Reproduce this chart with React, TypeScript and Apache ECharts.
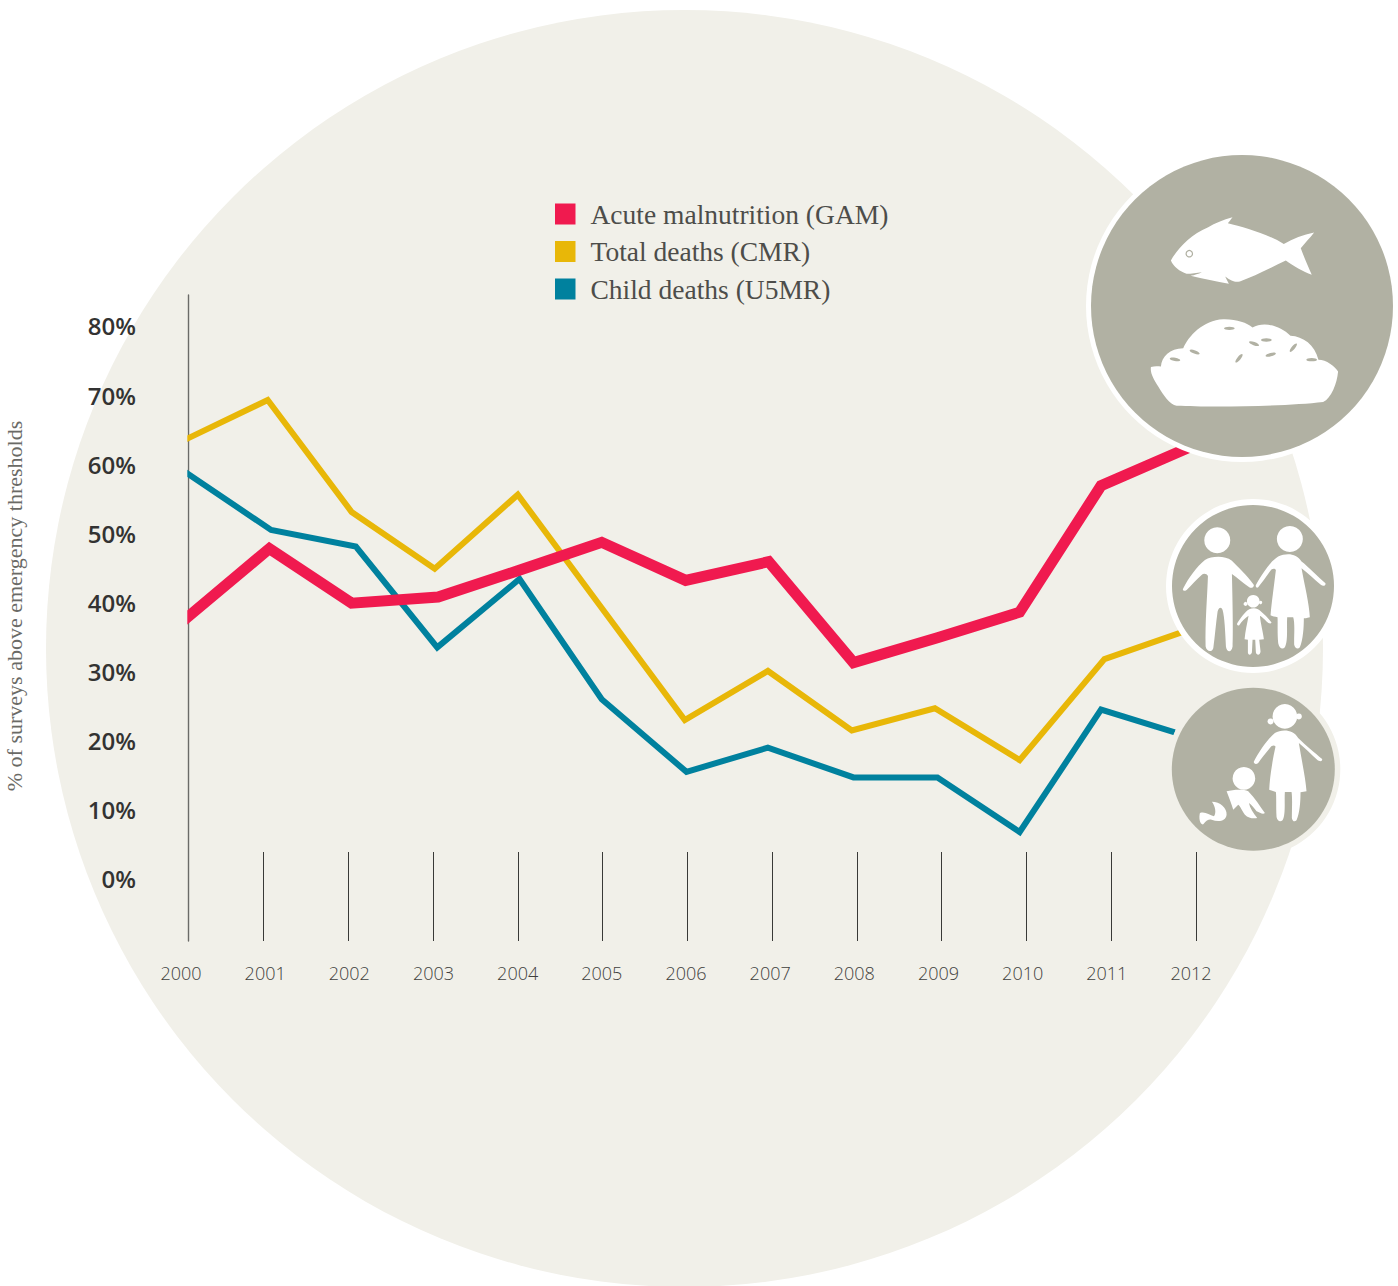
import React, { useEffect, useRef } from "react";
import * as echarts from "echarts";

// Survey shares above emergency thresholds, 2000-2012.
const yearLabels = ["2000", "2001", "2002", "2003", "2004", "2005", "2006", "2007", "2008", "2009", "2010", "2011", "2012"];
const tickYears = [2001, 2002, 2003, 2004, 2005, 2006, 2007, 2008, 2009, 2010, 2011, 2012];
const percentTicks = [0, 10, 20, 30, 40, 50, 60, 70, 80];

const gamYears = [2000, 2001.07, 2002.04, 2003.06, 2004, 2004.99, 2005.98, 2006.96, 2007.96, 2008.95, 2009.92, 2010.88, 2011.93];
const gamValues = [36.8, 47.8, 39.9, 40.8, 44.6, 48.7, 43.2, 45.9, 31.3, 34.9, 38.6, 56.9, 62.5];
const cmrYears = [2000, 2001.05, 2002.04, 2003.02, 2004, 2004.99, 2005.97, 2006.95, 2007.94, 2008.92, 2009.92, 2010.92, 2011.93];
const cmrValues = [63.1, 69.3, 53.1, 44.9, 55.6, 39.2, 23.0, 30.1, 21.5, 24.7, 17.2, 31.8, 36.1];
const u5mrYears = [2000, 2001.09, 2002.09, 2003.05, 2004.02, 2004.99, 2005.99, 2006.95, 2007.96, 2008.95, 2009.92, 2010.88, 2011.75];
const u5mrValues = [59.5, 50.5, 48.1, 33.5, 43.4, 26.0, 15.5, 19.0, 14.7, 14.7, 6.8, 24.5, 21.2];

const RED = "#f01a4f";
const YELLOW = "#e8b708";
const TEAL = "#00819e";
const PAPER = "#f1f0e9";
const BADGE = "#b1b1a3";
const INK = "#333332";

const SANS = '"Open Sans", sans-serif';
const SERIF = '"Liberation Serif", serif';

// Icon outlines, in a local space three times the drawn size.
echarts.graphic.registerShape("fishIcon", echarts.graphic.extendPath(
  "M273 362C290 330 330 285 385 262C405 250 430 240 458 232C452 240 448 246 444 250C490 262 560 280 612 312C640 296 670 285 703 278C690 295 675 310 663 325C672 350 685 380 696 405C670 395 640 378 618 362C570 385 520 410 480 425C465 428 455 424 436 410C440 418 443 425 447 432C410 425 370 418 332 408C345 405 355 402 366 397C350 398 335 402 320 402C300 395 280 380 273 362Z", {}));
echarts.graphic.registerShape("riceIcon", echarts.graphic.extendPath(
  "M213 682C225 678 235 680 243 680C245 650 270 625 310 625C325 590 370 540 430 538C470 537 500 548 518 563C550 545 600 555 632 588C670 590 705 615 716 660C740 660 765 680 775 695C772 730 755 775 730 787C620 800 400 803 290 798C270 795 250 765 235 740C222 720 210 700 213 682Z", {}));
echarts.graphic.registerShape("fatherIcon", echarts.graphic.extendPath(
  "M100 295C115 265 140 230 165 210C185 198 225 196 245 212C265 232 290 255 312 285C312 292 305 296 298 292C280 280 262 262 246 252C248 330 250 430 248 470C245 490 230 488 228 470C226 430 224 380 218 360C214 350 206 352 203 365C198 400 195 440 190 475C186 488 170 486 167 470C165 400 172 320 174 258C170 250 160 250 155 255C140 268 125 285 110 300C102 305 96 302 100 295Z", {}));
echarts.graphic.registerShape("motherIcon", echarts.graphic.extendPath(
  "M318 285C335 255 360 215 385 200C410 188 440 190 455 215C475 230 505 262 527 280C528 288 520 290 512 284C495 270 475 250 455 235C465 290 478 340 480 382C470 385 465 385 462 385C462 410 460 450 450 472C444 480 435 475 433 465C432 440 436 400 430 382L412 382C410 410 415 455 405 472C398 480 388 475 385 460C382 430 384 400 383 382C375 380 368 380 362 376C365 340 372 290 378 240C375 235 365 235 360 245C348 262 335 280 325 292C320 296 316 290 318 285Z", {}));
echarts.graphic.registerShape("daughterIcon", echarts.graphic.extendPath(
  "M262 400C272 385 285 365 298 358C310 352 325 355 330 362C342 372 355 385 365 398C362 404 356 400 350 395C344 388 336 382 330 378C332 400 340 430 342 448L328 450L332 485C330 498 320 496 318 488L316 450L308 450L306 488C302 498 294 495 294 488L294 450L284 448C286 425 292 400 296 378C285 385 275 395 268 406C263 408 260 404 262 400Z", {}));
echarts.graphic.registerShape("womanIcon", echarts.graphic.extendPath(
  "M312 815C325 790 350 750 375 730C395 718 430 718 445 745C465 765 495 790 517 808C518 815 510 817 502 810C485 795 465 775 447 760C455 810 468 870 470 905L452 908C452 935 450 970 440 992C434 998 428 995 426 985C426 960 428 925 425 907L405 907C403 935 408 975 398 992C390 998 382 993 380 982C378 950 380 925 378 907L358 900C360 860 368 810 377 770C372 765 365 768 360 775C348 790 335 805 325 820C318 825 310 822 312 815Z", {}));
echarts.graphic.registerShape("babyTorsoIcon", echarts.graphic.extendPath(
  "M230 905C250 900 280 898 295 905C315 925 330 950 345 970C340 975 330 970 320 965C312 955 305 945 297 940C300 955 310 970 322 985C310 988 295 985 285 975C275 960 270 948 265 945L250 960C245 945 238 925 230 905Z", {}));
echarts.graphic.registerShape("babyLegsIcon", echarts.graphic.extendPath(
  "M186 936C210 936 232 955 230 975C228 995 205 998 185 990C178 988 170 990 160 1004C150 1006 146 985 150 970C165 965 178 975 192 980C200 970 196 950 186 936Z", {}));

const TOP = 50;

const disc = (cx: number, cy: number, r: number, fill: string, z = TOP) => ({
  type: "circle", z, silent: true, shape: { cx, cy, r }, style: { fill },
});
const glyph = (type: string) => ({ type, z: TOP + 1, silent: true, style: { fill: "#ffffff" } });
const grain = (x: number, y: number, deg: number) => ({
  type: "ellipse", z: TOP + 2, silent: true, x, y, rotation: (deg * Math.PI) / 180,
  shape: { cx: 0, cy: 0, rx: 16, ry: 5 }, style: { fill: BADGE },
});
const whiteDot = (cx: number, cy: number, r: number) => ({
  type: "circle", z: TOP + 1, silent: true, shape: { cx, cy, r }, style: { fill: "#ffffff" },
});

const graphicElements = [
  // Backdrop disc behind the whole chart
  disc(684.5, 648.5, 638.5, PAPER, -10),
  // Covers the line ends left of the vertical axis
  { type: "rect", z: 3, silent: true, shape: { x: 176, y: 430, width: 11.3, height: 200 }, style: { fill: PAPER } },

  // Food badge
  disc(1242, 306, 156, "#ffffff"),
  disc(1242, 306, 151, BADGE, TOP + 0.5),
  {
    type: "group", x: 1080, y: 140, scaleX: 1 / 3, scaleY: 1 / 3,
    children: [
      glyph("fishIcon"),
      glyph("riceIcon"),
      grain(448, 565, 0), grain(285, 658, 350), grain(344, 636, 340), grain(522, 611, 340), grain(559, 600, 0),
      grain(477, 655, 50), grain(572, 644, 15), grain(640, 623, 50), grain(695, 659, 0),
    ],
  },
  {
    type: "circle", z: TOP + 2, silent: true, shape: { cx: 1189.3, cy: 253.7, r: 3.2 },
    style: { fill: "#ffffff", stroke: BADGE, lineWidth: 1.2 },
  },

  // Family badge
  disc(1253, 586, 87, "#ffffff"),
  disc(1253, 586, 81, BADGE, TOP + 0.5),
  {
    type: "group", x: 1150, y: 490, scaleX: 1 / 3, scaleY: 1 / 3,
    children: [
      whiteDot(202, 151, 39), whiteDot(420, 147, 39), whiteDot(310, 334, 19), whiteDot(287, 342, 6), whiteDot(332, 338, 5),
      glyph("fatherIcon"), glyph("motherIcon"), glyph("daughterIcon"),
    ],
  },

  // Child badge
  disc(1253.3, 769.3, 87, PAPER),
  disc(1253.3, 769.3, 81.5, BADGE, TOP + 0.5),
  {
    type: "group", x: 1150, y: 490, scaleX: 1 / 3, scaleY: 1 / 3,
    children: [
      whiteDot(405, 680, 37), whiteDot(362, 695, 9), whiteDot(447, 680, 9), whiteDot(282, 866, 34),
      glyph("womanIcon"), glyph("babyTorsoIcon"), glyph("babyLegsIcon"),
    ],
  },
];

const pairs = (xs: number[], ys: number[]) => xs.map((x, i) => [x, ys[i]]);

const lineSeries = (name: string, color: string, width: number, z: number, xs: number[], ys: number[]) => ({
  name,
  type: "line",
  xAxisIndex: 0,
  yAxisIndex: 0,
  z,
  data: pairs(xs, ys),
  showSymbol: false,
  symbol: "none",
  itemStyle: { color },
  lineStyle: { color, width, cap: "butt", join: "miter" },
});

export default function App() {
  const ref = useRef<HTMLDivElement>(null);

  useEffect(() => {
    const chart = echarts.init(ref.current!, undefined, { renderer: "svg" });
    chart.setOption({
      animation: false,
      backgroundColor: "#ffffff",
      graphic: { elements: graphicElements },
      legend: {
        orient: "vertical",
        left: 555,
        top: 200,
        padding: 0,
        itemWidth: 20.5,
        itemHeight: 21,
        itemGap: 9.5,
        icon: "rect",
        selectedMode: false,
        data: ["Acute malnutrition (GAM)", "Total deaths (CMR)", "Child deaths (U5MR)"],
        textStyle: { fontFamily: SERIF, fontSize: 27.5, color: "#4d4d4a", padding: [0, 0, 0, 10] },
      },
      grid: [
        { left: 188, top: 295, width: 1008, height: 646, containLabel: false, outerBoundsMode: "none" },
        { left: 181, top: 941, width: 1010, height: 1, containLabel: false, outerBoundsMode: "none" },
      ],
      xAxis: [
        {
          type: "value",
          gridIndex: 0,
          min: 2000.11,
          max: 2012,
          splitLine: { show: false },
          axisLine: { show: false, onZero: false },
          axisLabel: { show: false },
          axisTick: {
            show: true,
            inside: true,
            length: 89,
            customValues: tickYears,
            lineStyle: { color: "#3a3a38", width: 1 },
          },
        },
        {
          type: "category",
          gridIndex: 1,
          data: yearLabels,
          boundaryGap: false,
          axisLine: { show: false, onZero: false },
          axisTick: { show: false },
          axisLabel: {
            interval: 0,
            margin: 22,
            fontFamily: SANS,
            fontWeight: 300,
            fontSize: 18,
            color: "#3f3f3d",
          },
        },
      ],
      yAxis: [
        {
          type: "value",
          gridIndex: 0,
          min: -8.97,
          max: 84.484,
          name: "% of surveys above emergency thresholds",
          nameLocation: "middle",
          nameGap: 163,
          nameTextStyle: { fontFamily: SERIF, fontSize: 22, color: "#6a6a66", padding: [0, 0, 0, 24] },
          splitLine: { show: false },
          axisTick: { show: false },
          axisLine: { show: true, onZero: false, lineStyle: { color: "#6b6b68", width: 1.4 } },
          axisLabel: {
            customValues: percentTicks,
            formatter: "{value}%",
            margin: 52,
            fontFamily: SANS,
            fontWeight: 600,
            fontSize: 24,
            color: INK,
          },
        },
        { type: "value", gridIndex: 1, show: false },
      ],
      series: [
        lineSeries("Child deaths (U5MR)", TEAL, 6, 2, u5mrYears, u5mrValues),
        lineSeries("Total deaths (CMR)", YELLOW, 6, 2, cmrYears, cmrValues),
        lineSeries("Acute malnutrition (GAM)", RED, 11, 2, gamYears, gamValues),
      ],
    });
    return () => chart.dispose();
  }, []);

  return <div ref={ref} style={{ position: "absolute", left: 0, top: 0, width: 1398, height: 1286 }} />;
}
